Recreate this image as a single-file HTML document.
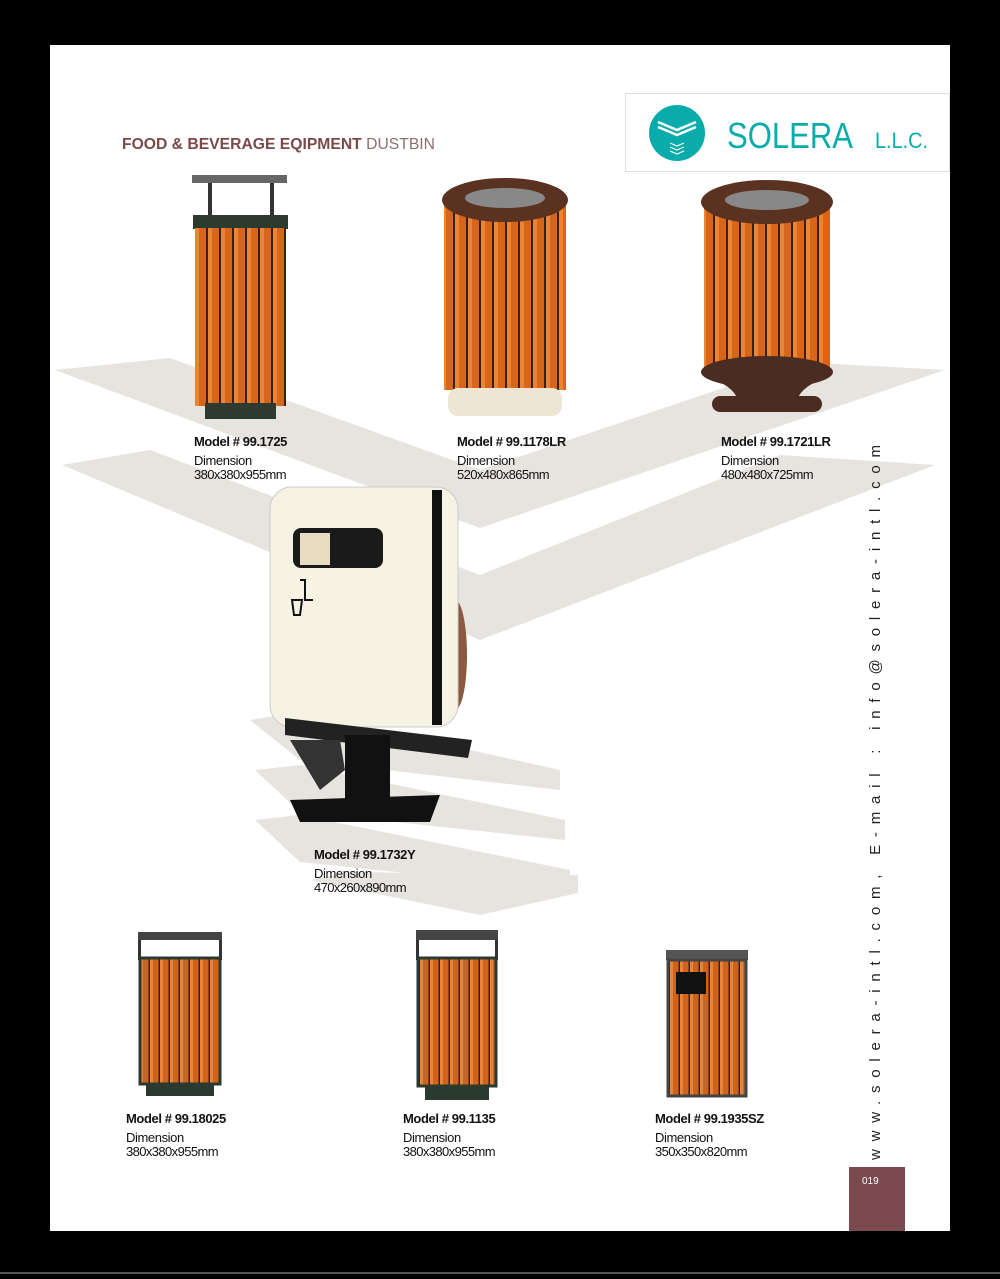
<!DOCTYPE html>
<html><head><style>
body{margin:0;background:#000;}
svg{display:block}
text{font-family:"Liberation Sans",sans-serif}
</style></head><body>
<svg width="1000" height="1279" viewBox="0 0 1000 1279" xmlns="http://www.w3.org/2000/svg">
<defs>
<pattern id="wood" width="13" height="10" patternUnits="userSpaceOnUse">
<rect width="13" height="10" fill="#d8661a"/><rect x="0" width="4" height="10" fill="#e98534"/><rect x="11" width="2" height="10" fill="#3a2010"/>
</pattern>
<pattern id="woodS" width="10" height="10" patternUnits="userSpaceOnUse">
<rect width="10" height="10" fill="#d1621a"/><rect x="0" width="3" height="10" fill="#e6843a"/><rect x="8.5" width="1.5" height="10" fill="#3a2010"/>
</pattern>
</defs>
<rect x="50" y="45" width="900" height="1186" fill="#fff"/>
<rect x="0" y="1272" width="1000" height="2" fill="#555"/>
<g fill="#e7e4e0">
<polygon points="55,370 170,358 480,470 800,362 945,370 480,528"/>
<polygon points="62,465 150,450 480,575 780,455 935,465 480,640"/>
<polygon points="250,720 300,712 560,770 560,790 300,760"/>
<polygon points="255,770 300,765 565,820 565,840 300,812"/>
<polygon points="255,820 300,815 570,870 570,890 300,862"/>
<polygon points="310,880 350,872 578,875 578,893 480,915"/>
</g>
<rect x="625.5" y="93.5" width="324" height="78" fill="#fff" stroke="#ddd"/>
<circle cx="677" cy="133" r="28" fill="#0aacab"/>
<path d="M658 122 L677 130 L696 122 M658 127 L677 135 L696 127" stroke="#fff" stroke-width="2.5" fill="none"/>
<path d="M670 143 l7 3 l7 -3 M670 147 l7 3 l7 -3 M670 151 l7 3 l7 -3" stroke="#fff" stroke-width="1.2" fill="none"/>
<text x="727" y="148" font-size="36" fill="#0aacab" textLength="126" lengthAdjust="spacingAndGlyphs">SOLERA</text>
<text x="875" y="148" font-size="22" fill="#0aacab" textLength="53" lengthAdjust="spacingAndGlyphs">L.L.C.</text>
<text x="122" y="149" font-size="16" font-weight="bold" fill="#7a4a4a" textLength="313" lengthAdjust="spacingAndGlyphs">FOOD &amp; BEVERAGE EQIPMENT <tspan font-weight="normal" fill="#8a7070">DUSTBIN</tspan></text>
<rect x="192" y="175" width="95" height="8" fill="#666"/>
<rect x="208" y="183" width="4" height="35" fill="#333"/><rect x="270" y="183" width="4" height="35" fill="#333"/>
<rect x="193" y="215" width="95" height="14" fill="#2c3a30"/>
<rect x="195" y="228" width="91" height="178" fill="url(#wood)"/>
<rect x="205" y="403" width="71" height="16" fill="#2c3a30"/>
<rect x="444" y="200" width="122" height="190" fill="url(#wood)"/>
<ellipse cx="505" cy="200" rx="63" ry="22" fill="#5a3222"/>
<ellipse cx="505" cy="198" rx="40" ry="10" fill="#888"/>
<rect x="448" y="388" width="114" height="28" rx="10" fill="#efe5d5"/>
<rect x="704" y="205" width="126" height="165" fill="url(#wood)"/>
<ellipse cx="767" cy="202" rx="66" ry="22" fill="#5a3222"/>
<ellipse cx="767" cy="200" rx="42" ry="10" fill="#888"/>
<ellipse cx="767" cy="372" rx="66" ry="16" fill="#4a2c22"/>
<path d="M715 380 Q740 390 740 410 L795 410 Q795 390 820 380 Z" fill="#4a2c22"/>
<rect x="712" y="396" width="110" height="16" rx="8" fill="#4a2c22"/>
<g font-size="13" fill="#111">
<text x="194" y="446" font-weight="bold" letter-spacing="-0.4">Model # 99.1725</text><text x="194" y="465" letter-spacing="-0.4">Dimension</text><text x="194" y="479" letter-spacing="-0.6">380x380x955mm</text>
<text x="457" y="446" font-weight="bold" letter-spacing="-0.4">Model # 99.1178LR</text><text x="457" y="465" letter-spacing="-0.4">Dimension</text><text x="457" y="479" letter-spacing="-0.6">520x480x865mm</text>
<text x="721" y="446" font-weight="bold" letter-spacing="-0.4">Model # 99.1721LR</text><text x="721" y="465" letter-spacing="-0.4">Dimension</text><text x="721" y="479" letter-spacing="-0.6">480x480x725mm</text>
</g>
<ellipse cx="455" cy="655" rx="12" ry="55" fill="#8a5a40"/>
<rect x="270" y="487" width="188" height="240" rx="22" fill="#f6f2e4" stroke="#ccc"/>
<rect x="432" y="490" width="10" height="235" fill="#111"/>
<rect x="293" y="528" width="90" height="40" rx="8" fill="#1a1a1a"/>
<rect x="300" y="533" width="30" height="32" fill="#e8dcc0"/>
<path d="M300 580 l5 0 l0 20 l8 0 M292 600 l10 0 l-2 15 l-6 0 z" stroke="#111" stroke-width="2" fill="none"/>
<polygon points="285,718 472,740 468,758 285,735" fill="#222"/>
<polygon points="290,740 340,740 345,770 320,790" fill="#333"/>
<rect x="345" y="735" width="45" height="80" fill="#111"/>
<polygon points="290,800 440,795 430,822 300,822" fill="#111"/>
<g font-size="13" fill="#111">
<text x="314" y="859" font-weight="bold" letter-spacing="-0.4">Model # 99.1732Y</text><text x="314" y="878" letter-spacing="-0.4">Dimension</text><text x="314" y="892" letter-spacing="-0.6">470x260x890mm</text>
</g>
<rect x="138" y="932" width="84" height="8" fill="#444"/>
<rect x="138" y="940" width="3" height="20" fill="#333"/><rect x="219" y="940" width="3" height="20" fill="#333"/>
<rect x="140" y="958" width="80" height="126" fill="url(#woodS)" stroke="#2a3a30" stroke-width="3"/>
<rect x="146" y="1084" width="68" height="12" fill="#2a3a30"/>
<rect x="416" y="930" width="82" height="10" fill="#444"/>
<rect x="416" y="940" width="3" height="20" fill="#333"/><rect x="495" y="940" width="3" height="20" fill="#333"/>
<rect x="418" y="958" width="78" height="128" fill="url(#woodS)" stroke="#2a3a30" stroke-width="3"/>
<rect x="425" y="1086" width="64" height="14" fill="#2a3a30"/>
<rect x="666" y="950" width="82" height="10" fill="#555"/>
<rect x="668" y="960" width="78" height="136" fill="url(#woodS)" stroke="#444" stroke-width="3"/>
<rect x="676" y="972" width="30" height="22" fill="#111"/>
<g font-size="13" fill="#111">
<text x="126" y="1123" font-weight="bold" letter-spacing="-0.4">Model # 99.18025</text><text x="126" y="1142" letter-spacing="-0.4">Dimension</text><text x="126" y="1156" letter-spacing="-0.6">380x380x955mm</text>
<text x="403" y="1123" font-weight="bold" letter-spacing="-0.4">Model # 99.1135</text><text x="403" y="1142" letter-spacing="-0.4">Dimension</text><text x="403" y="1156" letter-spacing="-0.6">380x380x955mm</text>
<text x="655" y="1123" font-weight="bold" letter-spacing="-0.4">Model # 99.1935SZ</text><text x="655" y="1142" letter-spacing="-0.4">Dimension</text><text x="655" y="1156" letter-spacing="-0.6">350x350x820mm</text>
</g>
<text transform="translate(880,1160) rotate(-90)" font-family="Liberation Serif,serif" font-size="15" fill="#222" textLength="715" lengthAdjust="spacing">www.solera-intl.com, E-mail : info@solera-intl.com</text>
<rect x="849" y="1167" width="56" height="64" fill="#7b4a4e"/>
<text x="862" y="1184" font-size="10" fill="#fff">019</text>
</svg>
</body></html>
